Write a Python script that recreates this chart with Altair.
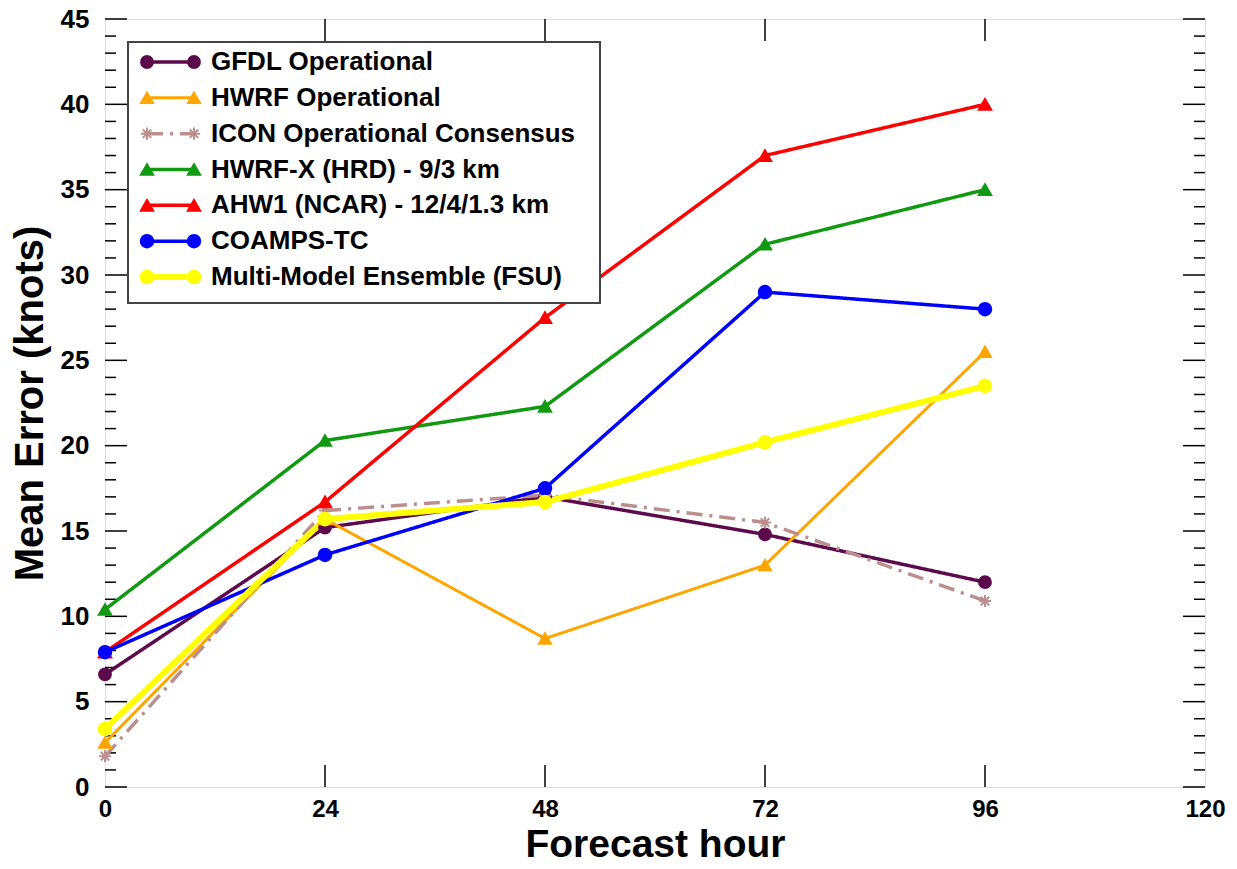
import altair as alt
import pandas as pd

# ---- data ----
hours = [0, 24, 48, 72, 96]
series_names = [
    "GFDL Operational",
    "HWRF Operational",
    "ICON Operational Consensus",
    "HWRF-X (HRD) - 9/3 km",
    "AHW1 (NCAR) - 12/4/1.3 km",
    "COAMPS-TC",
    "Multi-Model Ensemble (FSU)",
]
gfdl = [6.6, 15.2, 17.0, 14.8, 12.0]
hwrf = [2.6, 15.7, 8.7, 13.0, 25.5]
icon = [1.8, 16.2, 17.1, 15.5, 10.9]
hwrfx = [10.4, 20.3, 22.3, 31.8, 35.0]
ahw1 = [7.9, 16.7, 27.5, 37.0, 40.0]
coamps = [7.9, 13.6, 17.5, 29.0, 28.0]
mme = [3.4, 15.7, 16.7, 20.2, 23.5]
values = [gfdl, hwrf, icon, hwrfx, ahw1, coamps, mme]

x_ticks = [0, 24, 48, 72, 96, 120]
y_major = [0, 5, 10, 15, 20, 25, 30, 35, 40, 45]
y_minor = [v for v in range(0, 46) if v % 5 != 0]

# ---- styles ----
colors = ["#5c0a4c", "#ffa500", "#bc8f8f", "#119a11", "#ff0000", "#0000ff", "#ffff00"]
asterisk = "M0,-1L0,1M-1,0L1,0M-0.7,-0.7L0.7,0.7M-0.7,0.7L0.7,-0.7"
shapes = ["circle", "triangle-up", asterisk, "triangle-up", "triangle-up", "circle", "circle"]
sizes = [140, 160, 110, 160, 160, 200, 240]
widths = [3.5, 3, 3.5, 3.5, 3.5, 3.5, 6]
dashes = [[1, 0], [1, 0], [16, 7, 3, 7], [1, 0], [1, 0], [1, 0], [1, 0]]

rows = []
for name, vals, lw in zip(series_names, values, widths):
    for h, v in zip(hours, vals):
        rows.append({"series": name, "hour": h, "err": v, "lw": lw})
df = pd.DataFrame(rows)

W, H = 1100, 768
FONT = "Liberation Sans"

col_scale = alt.Scale(domain=series_names, range=colors)
shape_scale = alt.Scale(domain=series_names, range=shapes)
size_scale = alt.Scale(domain=series_names, range=sizes)
dash_scale = alt.Scale(domain=series_names, range=dashes)

xs = alt.Scale(domain=[0, 120], nice=False, zero=False)
ys = alt.Scale(domain=[0, 45], nice=False)

x_axis = alt.Axis(values=x_ticks, ticks=False, grid=False, domain=False,
                  labelFont=FONT, labelFontSize=24, labelFontWeight="bold",
                  labelColor="black", labelPadding=10, labelFlush=False,
                  title="Forecast hour", titleFont=FONT, titleFontSize=39,
                  titleFontWeight="bold", titleColor="black", titlePadding=4)
y_axis = alt.Axis(values=y_major, ticks=False, grid=False, domain=False,
                  labelFont=FONT, labelFontSize=26, labelFontWeight="bold",
                  labelColor="black", labelPadding=16, labelFlush=False,
                  title="Mean Error (knots)", titleFont=FONT, titleFontSize=40,
                  titleFontWeight="bold", titleColor="black", titlePadding=10)

lines = alt.Chart(df).mark_line(strokeCap="butt").encode(
    x=alt.X("hour:Q", scale=xs, axis=x_axis),
    y=alt.Y("err:Q", scale=ys, axis=y_axis),
    color=alt.Color("series:N", scale=col_scale, legend=None),
    strokeDash=alt.StrokeDash("series:N", scale=dash_scale, legend=None),
    strokeWidth=alt.StrokeWidth("lw:Q", scale=None, legend=None),
    order=alt.Order("hour:Q"),
)

points = alt.Chart(df).mark_point(opacity=1, strokeWidth=2).encode(
    x=alt.X("hour:Q", scale=xs),
    y=alt.Y("err:Q", scale=ys),
    fill=alt.Fill("series:N", scale=col_scale, legend=None),
    stroke=alt.Stroke("series:N", scale=col_scale, legend=None),
    shape=alt.Shape("series:N", scale=shape_scale, legend=None),
    size=alt.Size("series:N", scale=size_scale, legend=None),
)

# inward ticks
ymaj = pd.DataFrame({"v": y_major})
ymin = pd.DataFrame({"v": y_minor})
xmaj = pd.DataFrame({"h": x_ticks[1:-1]})
tick_style = dict(color="black", strokeWidth=1.5)
tk = []
for d, ln in ((ymaj, 22), (ymin, 11)):
    tk.append(alt.Chart(d).mark_rule(**tick_style).encode(
        y=alt.Y("v:Q", scale=ys), x=alt.value(0), x2=alt.value(ln)))
    tk.append(alt.Chart(d).mark_rule(**tick_style).encode(
        y=alt.Y("v:Q", scale=ys), x=alt.value(W - ln), x2=alt.value(W)))
tk.append(alt.Chart(xmaj).mark_rule(**tick_style).encode(
    x=alt.X("h:Q", scale=xs), y=alt.value(0), y2=alt.value(22)))
tk.append(alt.Chart(xmaj).mark_rule(**tick_style).encode(
    x=alt.X("h:Q", scale=xs), y=alt.value(H - 22), y2=alt.value(H)))

main = alt.layer(*tk, lines, points)

# ---- legend (drawn as layers) ----
leg = pd.DataFrame({"series": series_names, "row": list(range(len(series_names))),
                    "lw": widths})
ry = alt.Scale(domain=[0, 6], range=[43, 258])
box = alt.Chart(pd.DataFrame({"a": [0]})).mark_rect(
    fill="white", stroke="#444444", strokeWidth=2).encode(
    x=alt.value(23), x2=alt.value(495), y=alt.value(23), y2=alt.value(284))
leg_lines = alt.Chart(leg).mark_rule().encode(
    x=alt.value(42), x2=alt.value(89),
    y=alt.Y("row:Q", scale=ry, axis=None),
    color=alt.Color("series:N", scale=col_scale, legend=None),
    strokeDash=alt.StrokeDash("series:N", scale=dash_scale, legend=None),
    strokeWidth=alt.StrokeWidth("lw:Q", scale=None, legend=None),
)
leg_pts = []
for xp in (42, 89):
    leg_pts.append(alt.Chart(leg).mark_point(opacity=1, strokeWidth=2).encode(
        x=alt.value(xp),
        y=alt.Y("row:Q", scale=ry, axis=None),
        fill=alt.Fill("series:N", scale=col_scale, legend=None),
        stroke=alt.Stroke("series:N", scale=col_scale, legend=None),
        shape=alt.Shape("series:N", scale=shape_scale, legend=None),
        size=alt.Size("series:N", scale=size_scale, legend=None),
    ))
leg_text = alt.Chart(leg).mark_text(
    align="left", baseline="middle", font=FONT, fontSize=26, fontWeight="bold",
    color="black").encode(
    x=alt.value(106), y=alt.Y("row:Q", scale=ry, axis=None), text="series:N")
legend = alt.layer(box, leg_lines, *leg_pts, leg_text)

chart = alt.layer(main, legend).resolve_scale(y="independent").properties(
    width=W, height=H,
    autosize=alt.AutoSizeParams(type="none"),
    padding={"left": 105, "top": 19, "right": 32, "bottom": 82},
).configure_view(stroke="black", strokeWidth=2).configure(background="white")

chart.save("out.html", embed_options={"renderer": "svg", "actions": False})
